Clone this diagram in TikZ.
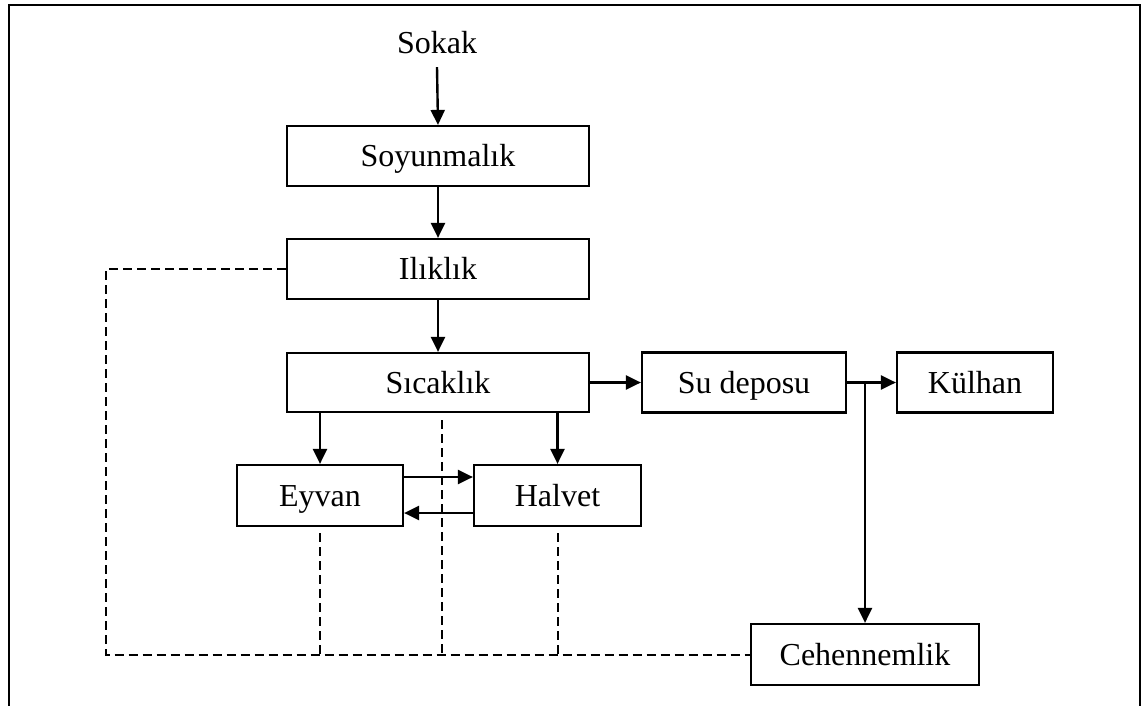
\documentclass[tikz,border=0pt]{standalone}
\usepackage{fontspec}
\setmainfont{Liberation Serif}
\usetikzlibrary{arrows.meta}
\begin{document}
\begin{tikzpicture}[x=1pt,y=-1pt,
  every node/.style={font=\fontsize{32}{38}\selectfont,text height=23pt,text depth=2pt},
  box/.style={draw,line width=2.2pt,minimum height=60pt,inner sep=0pt},
  arr/.style={line width=2.4pt,-{Triangle[length=15pt,width=14pt]}},
  dline/.style={line width=2pt,dash pattern=on 9pt off 5pt}]
\useasboundingbox (0,0) rectangle (1143,706);
\draw[line width=2pt] (9,706) -- (9,5) -- (1140,5) -- (1140,706);

\node (sokak) at (437,43) {Sokak};
\node[box,minimum width=302pt] (soy) at (438,156) {Soyunmalık};
\node[box,minimum width=302pt] (ilik) at (438,269) {Ilıklık};
\node[box,minimum width=302pt,minimum height=59pt] (sic) at (438,382.5) {Sıcaklık};
\node[box,minimum width=204pt] (su) at (744,382.5) {Su deposu};
\node[box,minimum width=156pt] (kul) at (975,382.5) {Külhan};
\node[box,minimum width=166pt,minimum height=61pt] (eyv) at (320,495.5) {Eyvan};
\node[box,minimum width=167pt,minimum height=61pt] (hal) at (557.5,495.5) {Halvet};
\node[box,minimum width=228pt,minimum height=61pt] (ceh) at (865,654.5) {Cehennemlik};

\draw[arr] ([yshift=-8pt]sokak.south) -- (soy.north);
\draw[arr] (soy.south) -- (ilik.north);
\draw[arr] (ilik.south) -- (sic.north);
\draw[arr] (sic.east) -- (su.west);
\draw[arr] (su.east) -- (kul.west);
\coordinate (j) at (ceh.north |- su.east);
\draw[arr] (j) -- (ceh.north);
\draw[arr] (eyv.north |- sic.south) -- (eyv.north);
\draw[arr] (hal.north |- sic.south) -- (hal.north);
\draw[arr] ([yshift=18.5pt]eyv.east) -- ([yshift=18.5pt]hal.west);
\draw[arr] ([yshift=-17.5pt]hal.west) -- ([yshift=-17.5pt]eyv.east);

\coordinate (cl) at (106,654.5);
\coordinate (d1) at (442,420);
\draw[dline] (ilik.west) -| (cl) -- (ceh.west);
\draw[dline] (d1) -- (d1 |- ceh.west);
\draw[dline] ([yshift=-6pt]eyv.south) -- (eyv.south |- ceh.west);
\draw[dline] ([yshift=-6pt]hal.south) -- (hal.south |- ceh.west);
\end{tikzpicture}
\end{document}
